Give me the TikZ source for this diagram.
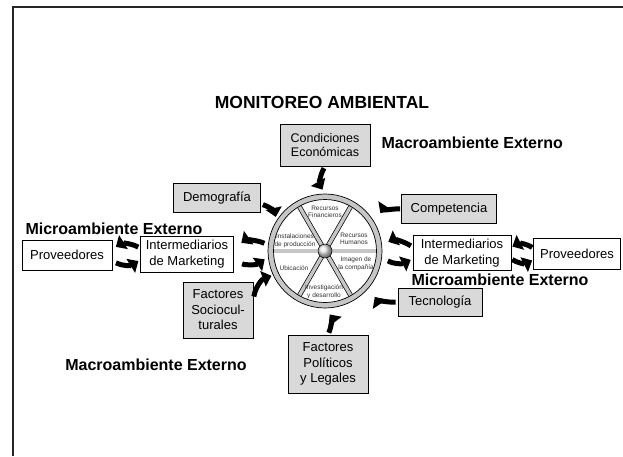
\documentclass[tikz,border=0pt]{standalone}
\usepackage{fontspec}
\setmainfont{Liberation Sans}
\usetikzlibrary{arrows.meta,positioning,calc,shadings}
\tikzset{
macro/.style = {draw, line width=0.9pt, fill=gray!30, rectangle, align=center, inner sep=2pt, font=\fontsize{13}{15.5}\selectfont},
micro/.style = {draw, line width=0.9pt, fill=white, rectangle, align=center, inner sep=2pt, font=\fontsize{13}{15.5}\selectfont},
rotulo/.style = {font=\fontsize{16}{18}\selectfont\bfseries},
titulo/.style = {font=\fontsize{17.5}{19}\selectfont\bfseries},
sector/.style = {align=center, inner sep=0pt, text=black!80, font=\fontsize{6.5}{7.5}\selectfont},
flecha/.style = {line width=5pt, -{Triangle[length=9pt,width=16pt]}},
rayo/.style = {line width=0.7pt, double=gray!45, double distance=3.4pt},
rueda/.style = {circle, minimum size=114pt, inner sep=0pt, outer sep=0pt}
}
\begin{document}
\begin{tikzpicture}[x=1pt, y=-1pt]
        \useasboundingbox (0,0) rectangle (623,456);
        \draw [line width=1.6pt, black!85] (13,456) -- (13,7) -- (623,7);
        \node [titulo] (monitoreo) at (322,102) {MONITOREO AMBIENTAL};
        \node [macro, minimum width=90, minimum height=42, font=\fontsize{12.5}{14}\selectfont] (condic) at (325,145) {Condiciones\\Económicas};
        \node [rotulo, anchor=west] (macroA) at (378,143) {Macroambiente Externo};
        \node [macro, minimum width=87, minimum height=29] (demog) at (217,198) {Demografía};
        \node [rotulo] (microL) at (114,229) {Microambiente Externo};
        \node [micro, minimum width=90, minimum height=30] (provL) at (67,255) {Proveedores};
        \node [micro, minimum width=93, minimum height=36] (intL) at (187,254) {Intermediarios\\de Marketing};
        \node [macro, minimum width=95, minimum height=29] (compet) at (449,209) {Competencia};
        \node [micro, minimum width=98, minimum height=35] (intR) at (462,253) {Intermediarios\\de Marketing};
        \node [micro, minimum width=87, minimum height=31] (provR) at (577,254) {Proveedores};
        \node [rotulo] (microR) at (500,280) {Microambiente Externo};
        \node [macro, minimum width=84, minimum height=28] (tecno) at (440,302) {Tecnología};
        \node [macro, minimum width=70, minimum height=56] (socio) at (218,310) {Factores\\Sociocul-\\turales};
        \node [macro, minimum width=80, minimum height=58] (polit) at (328,364) {Factores\\Políticos\\y Legales};
        \node [rotulo] (macroB) at (156,365) {Macroambiente Externo};
        \node [rueda] (rueda) at (325,251) {};
        \fill [white] (rueda.center) circle (51pt);
        \foreach \ang in {0,60,120}
            \draw [rayo] ($(rueda.center)+(\ang:53pt)$) -- ($(rueda.center)+(\ang+180:53pt)$);
        \draw [line width=0.7pt, fill=gray!45, even odd rule] (rueda.center) circle (57pt) circle (51.5pt);
        \shade [ball color=gray!20, draw, line width=0.5pt] (rueda.center) circle (7pt);
        \node [sector] (finan) at (325,212) {Recursos\\Financieros};
        \node [sector] (human) at (354,239) {Recursos\\Humanos};
        \node [sector] (imagen) at (356,264) {Imagen de\\la compañía};
        \node [sector] (invest) at (324,292) {Investigación\\y desarrollo};
        \node [sector] (ubica) at (294,268) {Ubicación};
        \node [sector] (instal) at (295,241) {Instalaciones\\de producción};
        \draw [flecha, shorten <=2pt, shorten >=5pt] (condic.south) to[bend right=30] (rueda.north);
        \draw [flecha, shorten <=2pt, shorten >=4pt] ([yshift=-6pt]demog.east) to[bend left=30] (rueda.148);
        \draw [flecha, shorten <=2pt, shorten >=2pt] (socio.18) to[bend left=30] (rueda.205);
        \draw [flecha, shorten <=2pt, shorten >=8pt] (polit.north) to[bend right=30] (rueda.south);
        \draw [flecha, shorten <=2pt, shorten >=11pt] (tecno.west) to[bend left=30] (rueda.-40);
        \draw [flecha, shorten <=1pt, shorten >=11pt] (compet.west) to[bend right=30] (rueda.30);
        \draw [flecha, shorten <=2pt, shorten >=4pt] ([yshift=6pt]intL.west) to[bend right=30] ([yshift=6pt]provL.east);
        \draw [flecha, shorten <=4pt, shorten >=2pt] ([yshift=-6pt]provL.east) to[bend right=30] ([yshift=-6pt]intL.west);
        \draw [flecha, shorten <=4pt, shorten >=9pt] ([yshift=6pt]rueda.west) to[bend right=30] ([yshift=6pt]intL.east);
        \draw [flecha, shorten <=9pt, shorten >=4pt] ([yshift=-6pt]intL.east) to[bend right=30] ([yshift=-6pt]rueda.west);
        \draw [flecha, shorten <=2pt, shorten >=7pt] ([yshift=6pt]intR.west) to[bend right=30] ([yshift=6pt]rueda.east);
        \draw [flecha, shorten <=7pt, shorten >=2pt] ([yshift=-6pt]rueda.east) to[bend right=30] ([yshift=-6pt]intR.west);
        \draw [flecha, shorten <=1pt, shorten >=1pt] ([yshift=6pt]provR.west) to[bend right=30] ([yshift=6pt]intR.east);
        \draw [flecha, shorten <=1pt, shorten >=1pt] ([yshift=-6pt]intR.east) to[bend right=30] ([yshift=-6pt]provR.west);
\end{tikzpicture}
\end{document}
